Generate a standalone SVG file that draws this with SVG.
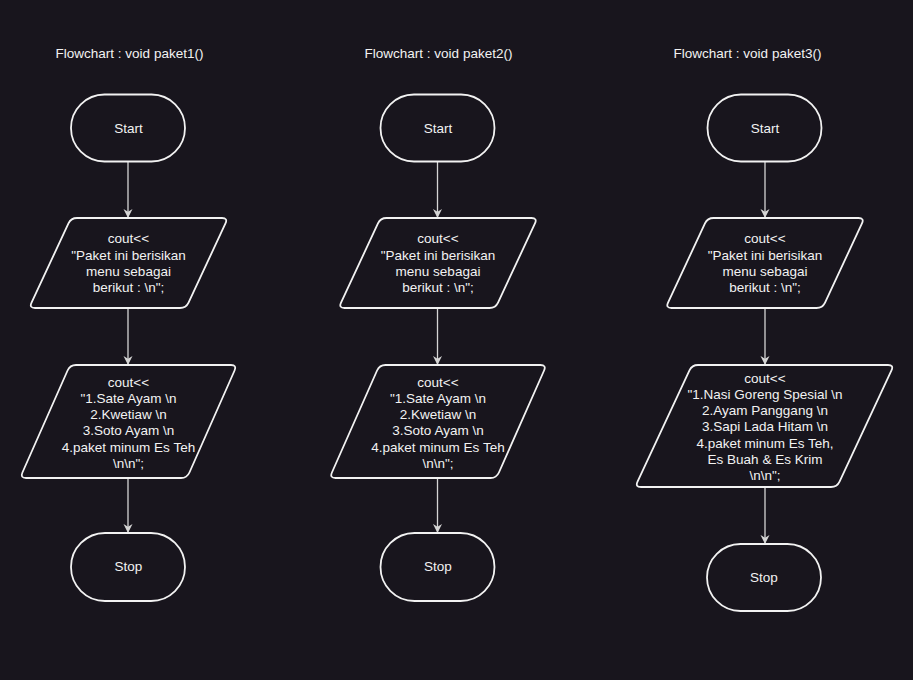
<svg xmlns="http://www.w3.org/2000/svg" width="913" height="680" viewBox="0 0 913 680">
<style>
.bg{fill:#18151d}
.shape{fill:#18151d;stroke:#f2f2f2;stroke-width:1.8}
.t{font-family:"Liberation Sans",Arial,sans-serif;font-size:13.5px;fill:#f2f2f2;text-anchor:middle}
.edge{stroke:#d4d4d4;stroke-width:1.3;fill:none}
</style>
<defs>
<marker id="arr" markerUnits="userSpaceOnUse" viewBox="0 0 10 10" refX="10" refY="5" markerWidth="9" markerHeight="10" orient="auto">
<path d="M0,0 L10,5 L0,10 L3,5 Z" fill="#d4d4d4"/>
</marker>
</defs>
<rect class="bg" x="0" y="0" width="913" height="680"/>

<g id="titles">
<text class="t" x="129.5" y="58">Flowchart : void paket1()</text>
<text class="t" x="438.5" y="58">Flowchart : void paket2()</text>
<text class="t" x="747.5" y="58">Flowchart : void paket3()</text>
</g>

<g id="connectors">
<line class="edge" x1="128" y1="161.5" x2="128" y2="218" marker-end="url(#arr)"/>
<line class="edge" x1="128" y1="308" x2="128" y2="365" marker-end="url(#arr)"/>
<line class="edge" x1="128" y1="478" x2="128" y2="533" marker-end="url(#arr)"/>
<line class="edge" x1="437.5" y1="161.5" x2="437.5" y2="218" marker-end="url(#arr)"/>
<line class="edge" x1="437.5" y1="308" x2="437.5" y2="365" marker-end="url(#arr)"/>
<line class="edge" x1="437.5" y1="478" x2="437.5" y2="533" marker-end="url(#arr)"/>
<line class="edge" x1="765" y1="162" x2="765" y2="218" marker-end="url(#arr)"/>
<line class="edge" x1="765" y1="308" x2="765" y2="365" marker-end="url(#arr)"/>
<line class="edge" x1="765" y1="487" x2="765" y2="544" marker-end="url(#arr)"/>
</g>

<!-- Column 1 -->
<g id="start1">
<rect class="shape" x="71" y="94.5" width="114" height="67" rx="33.5" ry="33.5"/>
<text class="t" x="128.5" y="133">Start</text>
</g>
<g id="out1a">
<path class="shape" d="M77,218 L222,218 Q228,218 225.46,223.44 L188.54,302.56 Q186,308 180,308 L35,308 Q29,308 31.54,302.56 L68.46,223.44 Q71,218 77,218 Z"/>
<text class="t" x="128.5" y="243.3">cout&lt;&lt;</text>
<text class="t" x="128.5" y="259.5">"Paket ini berisikan</text>
<text class="t" x="128.5" y="275.7">menu sebagai</text>
<text class="t" x="128.5" y="291.9">berikut : \n";</text>
</g>
<g id="out1b">
<path class="shape" d="M76,365 L231,365 Q237,365 234.57,370.49 L189.43,472.51 Q187,478 181,478 L26,478 Q20,478 22.43,472.51 L67.57,370.49 Q70,365 76,365 Z"/>
<text class="t" x="128.5" y="386.7">cout&lt;&lt;</text>
<text class="t" x="128.5" y="402.9">"1.Sate Ayam \n</text>
<text class="t" x="128.5" y="419.1">2.Kwetiaw \n</text>
<text class="t" x="128.5" y="435.3">3.Soto Ayam \n</text>
<text class="t" x="128.5" y="451.5">4.paket minum Es Teh</text>
<text class="t" x="128.5" y="467.7">\n\n";</text>
</g>
<g id="stop1">
<rect class="shape" x="71" y="533" width="114" height="68" rx="34" ry="34"/>
<text class="t" x="128.5" y="571.4">Stop</text>
</g>

<!-- Column 2 -->
<g id="start2">
<rect class="shape" x="380.5" y="94.5" width="114" height="67" rx="33.5" ry="33.5"/>
<text class="t" x="438" y="133">Start</text>
</g>
<g id="out2a">
<path class="shape" transform="translate(309.5,0)" d="M77,218 L222,218 Q228,218 225.46,223.44 L188.54,302.56 Q186,308 180,308 L35,308 Q29,308 31.54,302.56 L68.46,223.44 Q71,218 77,218 Z"/>
<text class="t" x="438" y="243.3">cout&lt;&lt;</text>
<text class="t" x="438" y="259.5">"Paket ini berisikan</text>
<text class="t" x="438" y="275.7">menu sebagai</text>
<text class="t" x="438" y="291.9">berikut : \n";</text>
</g>
<g id="out2b">
<path class="shape" transform="translate(309.5,0)" d="M76,365 L231,365 Q237,365 234.57,370.49 L189.43,472.51 Q187,478 181,478 L26,478 Q20,478 22.43,472.51 L67.57,370.49 Q70,365 76,365 Z"/>
<text class="t" x="438" y="386.7">cout&lt;&lt;</text>
<text class="t" x="438" y="402.9">"1.Sate Ayam \n</text>
<text class="t" x="438" y="419.1">2.Kwetiaw \n</text>
<text class="t" x="438" y="435.3">3.Soto Ayam \n</text>
<text class="t" x="438" y="451.5">4.paket minum Es Teh</text>
<text class="t" x="438" y="467.7">\n\n";</text>
</g>
<g id="stop2">
<rect class="shape" x="380.5" y="533" width="114" height="68" rx="34" ry="34"/>
<text class="t" x="438" y="571.4">Stop</text>
</g>

<!-- Column 3 -->
<g id="start3">
<rect class="shape" x="707.5" y="94.5" width="114" height="67" rx="33.5" ry="33.5"/>
<text class="t" x="765" y="133">Start</text>
</g>
<g id="out3a">
<path class="shape" transform="translate(636.5,0)" d="M77,218 L222,218 Q228,218 225.46,223.44 L188.54,302.56 Q186,308 180,308 L35,308 Q29,308 31.54,302.56 L68.46,223.44 Q71,218 77,218 Z"/>
<text class="t" x="765" y="243.3">cout&lt;&lt;</text>
<text class="t" x="765" y="259.5">"Paket ini berisikan</text>
<text class="t" x="765" y="275.7">menu sebagai</text>
<text class="t" x="765" y="291.9">berikut : \n";</text>
</g>
<g id="out3b">
<path class="shape" d="M698,365 L888,365 Q894,365 891.46,370.43 L839.54,481.57 Q837,487 831,487 L641,487 Q635,487 637.54,481.57 L689.46,370.43 Q692,365 698,365 Z"/>
<text class="t" x="765" y="382.7">cout&lt;&lt;</text>
<text class="t" x="765" y="398.9">"1.Nasi Goreng Spesial \n</text>
<text class="t" x="765" y="415.1">2.Ayam Panggang \n</text>
<text class="t" x="765" y="431.3">3.Sapi Lada Hitam \n</text>
<text class="t" x="765" y="447.5">4.paket minum Es Teh,</text>
<text class="t" x="765" y="463.7">Es Buah &amp; Es Krim</text>
<text class="t" x="765" y="479.9">\n\n";</text>
</g>
<g id="stop3">
<rect class="shape" x="707" y="544" width="114" height="67" rx="33.5" ry="33.5"/>
<text class="t" x="764" y="582.4">Stop</text>
</g>
</svg>
